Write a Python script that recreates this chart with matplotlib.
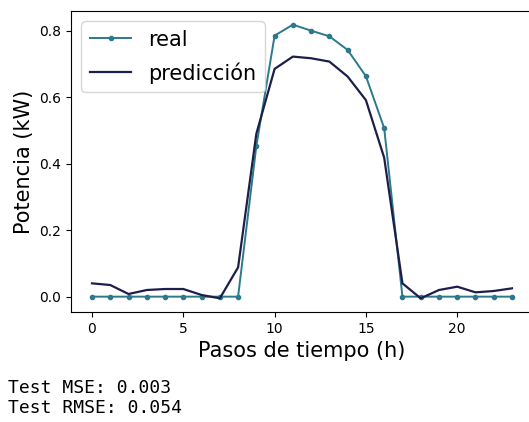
import matplotlib.pyplot as plt

# datos
horas = list(range(24))
real = [0, 0, 0, 0, 0, 0, 0, 0, 0, 0.453, 0.785, 0.818, 0.800, 0.783,
        0.742, 0.663, 0.507, 0, 0, 0, 0, 0, 0, 0]
prediccion = [0.040, 0.035, 0.008, 0.020, 0.023, 0.023, 0.005, -0.005,
              0.088, 0.490, 0.685, 0.722, 0.717, 0.707, 0.662, 0.591,
              0.418, 0.040, -0.005, 0.020, 0.030, 0.013, 0.017, 0.025]
mse = 0.003
rmse = 0.054

fig = plt.figure(figsize=(5.29, 4.22), dpi=100)
ax = fig.add_axes([71 / 529, 110 / 422, 462 / 529, 301 / 422])

ax.plot(horas, real, '.-', color='#2a7a8c', linewidth=1.4, markersize=6, label='real')
ax.plot(horas, prediccion, '-', color='#1e1e4a', linewidth=1.6, label='predicción')

ax.set_xlabel('Pasos de tiempo (h)', fontsize=15)
ax.set_ylabel('Potencia (kW)', fontsize=15)
ax.tick_params(labelsize=10)
ax.set_xticks([0, 5, 10, 15, 20])
ax.set_yticks([0.0, 0.2, 0.4, 0.6, 0.8])
ax.legend(loc='upper left', fontsize=15, labelspacing=0.6)

fig.text(8 / 529, 1 - 393 / 422, f'Test MSE: {mse}', family='DejaVu Sans Mono', fontsize=13, va='baseline')
fig.text(8 / 529, 1 - 413 / 422, f'Test RMSE: {rmse}', family='DejaVu Sans Mono', fontsize=13, va='baseline')

plt.savefig('out.png', dpi=100)
